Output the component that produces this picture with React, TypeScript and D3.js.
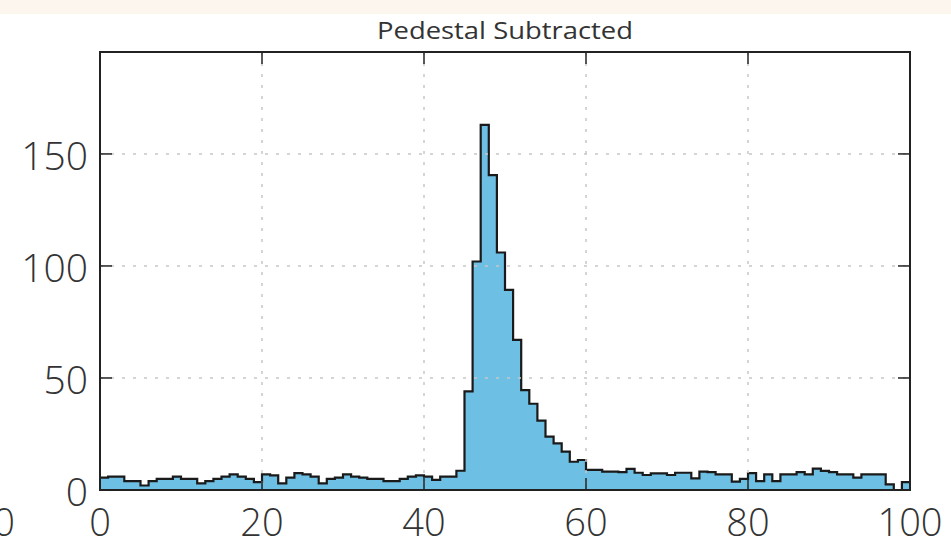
import React from "react";
import * as d3 from "d3";

// histogram counts, one per unit-wide bin from 0 to 100
const counts = [
  5.5, 6, 6, 4, 4, 2, 4, 5, 5, 6, 5, 5, 3, 4, 5, 6, 7, 6, 5, 3.5,
  7, 6.5, 3, 5.5, 7.5, 7, 6, 3, 5, 5.5, 7, 6, 5.5, 5, 5, 4, 4, 5, 6, 6.5,
  6, 4.5, 6, 6, 8.6, 44, 102, 163, 140.5, 106, 89.3, 67, 44.6, 38.5, 31, 23.8, 20.8, 17.1, 12.6, 13.4,
  9, 9, 8.2, 8.2, 8, 9.4, 7.7, 6.7, 7.4, 7.4, 6.7, 7.7, 7.7, 5.2, 8.2, 8, 7, 7, 3.7, 5,
  7.5, 4, 7, 4, 7, 7, 8, 7, 9.5, 8.5, 8, 7, 7, 5.5, 7, 7, 7, 2.5, 0, 3.5,
];
const binWidth = 1;
const xTicks = [0, 20, 40, 60, 80, 100];
const yTicks = [0, 50, 100, 150];
const title = "Pedestal Subtracted";

const W = 951;
const H = 546;
const margin = { top: 52, right: 41, bottom: 56, left: 100 };

export default function App() {
  const innerW = W - margin.left - margin.right;
  const innerH = H - margin.top - margin.bottom;

  const x = d3.scaleLinear().domain([0, 100]).range([0, innerW]);
  const y = d3.scaleLinear().domain([0, 195.5]).range([innerH, 0]);

  // step points: each bin start plus a closing point at the last edge
  const pts = counts.map((c, i) => ({ x0: i * binWidth, v: c }));
  pts.push({ x0: counts.length * binWidth, v: counts[counts.length - 1] });

  const area = d3
    .area<{ x0: number; v: number }>()
    .x((d) => x(d.x0))
    .y0(y(0))
    .y1((d) => y(d.v))
    .curve(d3.curveStepAfter);
  const line = d3
    .line<{ x0: number; v: number }>()
    .x((d) => x(d.x0))
    .y((d) => y(d.v))
    .curve(d3.curveStepAfter);

  const font = "'Open Sans', 'Liberation Sans', sans-serif";
  const tickLen = 12;
  const xLabelY = innerH + 46;

  return (
    <svg width={W} height={H} style={{ display: "block", position: "absolute", left: 0, top: 0 }}>
      <rect width={W} height={H} fill="#ffffff" />
      <rect width={W} height={14} fill="#fdf6ef" />
      <text
        x={margin.left + innerW / 2}
        y={39}
        textAnchor="middle"
        fontFamily={font}
        fontSize={23}
        fill="#333"
        textLength={256}
        lengthAdjust="spacingAndGlyphs"
      >
        {title}
      </text>
      <g transform={`translate(${margin.left},${margin.top})`}>
        <path d={area(pts) ?? ""} fill="#6dbfe4" />
        <path d={line(pts) ?? ""} fill="none" stroke="#1a1a1a" strokeWidth={2.2} />
        {/* grid on top of the bars */}
        <g stroke="#c8c8c8" strokeWidth={1.5} strokeDasharray="3,8">
          {xTicks.slice(1, -1).map((t) => (
            <line key={"gx" + t} x1={x(t)} x2={x(t)} y1={0} y2={innerH} />
          ))}
          {yTicks.slice(1).map((t) => (
            <line key={"gy" + t} x1={0} x2={innerW} y1={y(t)} y2={y(t)} />
          ))}
        </g>
        <g stroke="#222" strokeWidth={1.5}>
          {xTicks.slice(1, -1).map((t) => (
            <g key={"tx" + t}>
              <line x1={x(t)} x2={x(t)} y1={innerH} y2={innerH - tickLen} />
              <line x1={x(t)} x2={x(t)} y1={0} y2={tickLen} />
            </g>
          ))}
          {yTicks.slice(1).map((t) => (
            <g key={"ty" + t}>
              <line x1={0} x2={tickLen} y1={y(t)} y2={y(t)} />
              <line x1={innerW} x2={innerW - tickLen} y1={y(t)} y2={y(t)} />
            </g>
          ))}
        </g>
        <rect width={innerW} height={innerH} fill="none" stroke="#222" strokeWidth={2} />
        <g fontFamily={font} fontWeight={300} fill="#333">
          {xTicks.map((t) => (
            <text key={"lx" + t} x={x(t)} y={xLabelY} textAnchor="middle" fontSize={38}>
              {t}
            </text>
          ))}
          {yTicks.map((t) => (
            <text key={"ly" + t} x={-12} y={y(t) + 16} textAnchor="end" fontSize={39}>
              {t}
            </text>
          ))}
        </g>
      </g>
      {/* clipped label of the neighbouring panel */}
      <text x={4} y={margin.top + xLabelY} textAnchor="middle" fontFamily={font} fontSize={38} fontWeight={300} fill="#333">
        0
      </text>
    </svg>
  );
}
